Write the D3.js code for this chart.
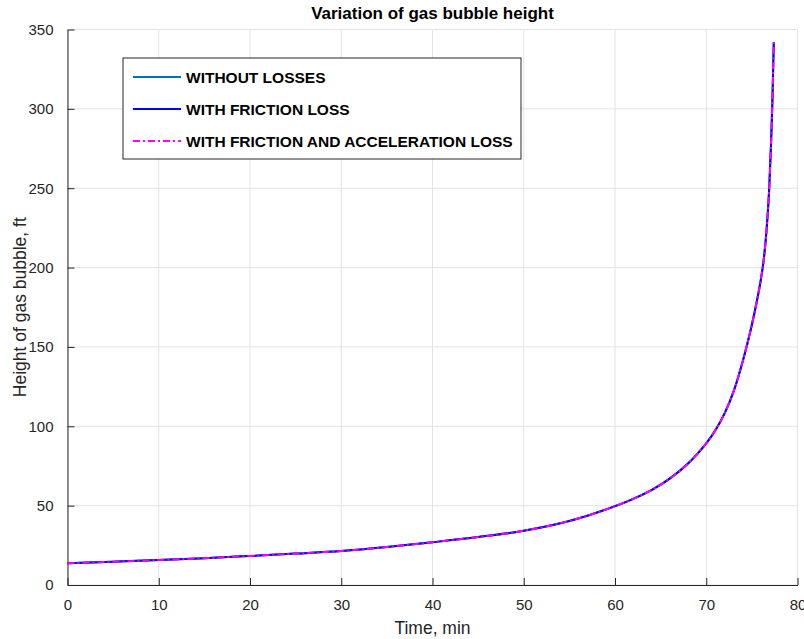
<!DOCTYPE html>
<html>
<head>
<meta charset="utf-8">
<script src="https://cdn.jsdelivr.net/npm/d3@7/dist/d3.min.js"></script>
<style>
  body { margin: 0; background: #fff; }
  svg text { font-family: "Liberation Sans", Arial, Helvetica, sans-serif; }
</style>
</head>
<body>
<svg id="chart" width="804" height="639"></svg>
<script>
// time, min
const timeMin = [0, 5, 10, 15, 20, 25, 30, 35, 40, 45, 50, 55, 60, 62, 64, 66, 68, 69, 70, 71, 72, 73, 74, 74.5, 75, 75.5, 76, 76.3, 76.6, 76.9, 77.1, 77.25, 77.4];
// bubble height, ft (the three cases overlap almost exactly)
const withoutLosses   = [13.7, 14.7, 15.7, 16.9, 18.3, 19.8, 21.4, 23.9, 26.9, 30.2, 34.2, 40.3, 49.7, 54.3, 59.8, 67, 76.5, 82.5, 89.2, 97.5, 108, 122, 141, 152, 164, 177.5, 193, 205, 223, 250, 278, 305, 342];
const withFriction    = [13.7, 14.7, 15.7, 16.9, 18.3, 19.8, 21.4, 23.9, 26.9, 30.2, 34.2, 40.3, 49.7, 54.3, 59.8, 67, 76.5, 82.5, 89.2, 97.5, 108, 122, 141, 152, 164, 177.5, 193, 205, 223, 250, 278, 305, 342];
const withFrictionAcc = [13.7, 14.7, 15.7, 16.9, 18.3, 19.8, 21.4, 23.9, 26.9, 30.2, 34.2, 40.3, 49.7, 54.3, 59.8, 67, 76.5, 82.5, 89.2, 97.5, 108, 122, 141, 152, 164, 177.5, 193, 205, 223, 250, 278, 305, 342];

const xTicks = [0, 10, 20, 30, 40, 50, 60, 70, 80];
const yTicks = [0, 50, 100, 150, 200, 250, 300, 350];

const seriesNames = ["WITHOUT LOSSES", "WITH FRICTION LOSS", "WITH FRICTION AND ACCELERATION LOSS"];

const svg = d3.select("#chart");
const margin = { left: 67.5, right: 6.5, top: 29.5, bottom: 54 };
const W = 804, H = 639;

const x = d3.scaleLinear().domain([0, 80]).range([margin.left, W - margin.right]);
const y = d3.scaleLinear().domain([0, 350]).range([H - margin.bottom, margin.top]);

// grid
const grid = svg.append("g");
grid.selectAll(".gx").data(xTicks).enter().append("line")
    .attr("x1", d => x(d)).attr("x2", d => x(d))
    .attr("y1", y(0)).attr("y2", y(350))
    .attr("stroke", "#e3e3e3").attr("stroke-width", 1);
grid.selectAll(".gy").data(yTicks).enter().append("line")
    .attr("x1", x(0)).attr("x2", x(80))
    .attr("y1", d => y(d)).attr("y2", d => y(d))
    .attr("stroke", "#e3e3e3").attr("stroke-width", 1);

// axes, ticks pointing inward
const xAxis = svg.append("g")
    .attr("transform", `translate(0,${y(0)})`)
    .call(d3.axisBottom(x).tickValues(xTicks).tickSizeInner(-7).tickSizeOuter(0).tickPadding(14));
const yAxis = svg.append("g")
    .attr("transform", `translate(${x(0)},0)`)
    .call(d3.axisLeft(y).tickValues(yTicks).tickSizeInner(-7).tickSizeOuter(0).tickPadding(14));

[xAxis, yAxis].forEach(g => {
    g.select(".domain").attr("stroke", "#262626").attr("stroke-width", 1);
    g.selectAll(".tick line").attr("stroke", "#262626");
    g.selectAll(".tick text").attr("fill", "#262626").style("font-size", "15px");
});

// lines
const lineGen = d3.line().x((d, i) => x(timeMin[i])).y(d => y(d)).curve(d3.curveMonotoneX);

const styles = [
    { color: "#0072BD", width: 2, dash: null },
    { color: "#0000FF", width: 2, dash: null },
    { color: "#FF00FF", width: 2, dash: "7,3,2,3" }
];
const allSeries = [withoutLosses, withFriction, withFrictionAcc];

allSeries.forEach((s, i) => {
    svg.append("path")
        .datum(s)
        .attr("d", lineGen)
        .attr("fill", "none")
        .attr("stroke", styles[i].color)
        .attr("stroke-width", styles[i].width)
        .attr("stroke-dasharray", styles[i].dash);
});

// title and labels
svg.append("text")
    .attr("x", (x(0) + x(80)) / 2).attr("y", 19)
    .attr("text-anchor", "middle")
    .style("font-size", "17px").style("font-weight", "bold")
    .attr("fill", "#000")
    .text("Variation of gas bubble height");

svg.append("text")
    .attr("x", (x(0) + x(80)) / 2).attr("y", 634)
    .attr("text-anchor", "middle")
    .style("font-size", "17.5px")
    .attr("fill", "#262626")
    .text("Time, min");

svg.append("text")
    .attr("transform", `translate(26,${(y(0) + y(350)) / 2}) rotate(-90)`)
    .attr("text-anchor", "middle")
    .style("font-size", "17.5px")
    .attr("fill", "#262626")
    .text("Height of gas bubble, ft");

// legend
const legend = svg.append("g").attr("transform", "translate(123,58)");
legend.append("rect")
    .attr("x", 0).attr("y", 0).attr("width", 398).attr("height", 101)
    .attr("fill", "#fff").attr("stroke", "#262626").attr("stroke-width", 1);

seriesNames.forEach((name, i) => {
    const ly = 19 + i * 32;
    legend.append("line")
        .attr("x1", 10).attr("x2", 58).attr("y1", ly).attr("y2", ly)
        .attr("stroke", styles[i].color).attr("stroke-width", styles[i].width)
        .attr("stroke-dasharray", styles[i].dash);
    legend.append("text")
        .attr("x", 63).attr("y", ly + 5.5)
        .style("font-size", "15.5px").style("font-weight", "bold")
        .attr("fill", "#000")
        .text(name);
});
</script>
</body>
</html>
